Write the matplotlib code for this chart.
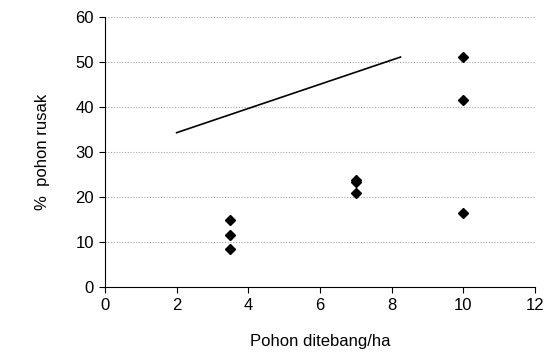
import matplotlib
matplotlib.use("Agg")
import matplotlib.pyplot as plt

# Observed damage by felling intensity
felled = [3.5, 3.5, 3.5, 7, 7, 7, 10, 10, 10]
damaged = [14.9, 11.6, 8.4, 23.8, 23.4, 20.8, 51.1, 41.5, 16.4]

# Reference line
line_x = [2, 8.25]
line_y = [34.3, 51.1]

x_ticks = [0, 2, 4, 6, 8, 10, 12]
y_ticks = [0, 10, 20, 30, 40, 50, 60]

plt.rcParams['font.family'] = ['Liberation Sans', 'DejaVu Sans']

fig = plt.figure(figsize=(5.48, 3.54), dpi=100)
ax = fig.add_axes([0.1916, 0.189, 0.7844, 0.763])

for y in y_ticks[1:]:
    ax.axhline(y, color='#a8a8a8', lw=0.8, ls=(0, (1, 1.5)), zorder=0)

ax.plot(line_x, line_y, color='black', lw=1.2, zorder=2)
ax.plot(felled, damaged, ls='none', marker='D', ms=5, color='black', zorder=3)

ax.set_xlim(0, 12)
ax.set_ylim(0, 60)
ax.set_xticks(x_ticks)
ax.set_yticks(y_ticks)
ax.tick_params(direction='out', length=4, width=0.8, labelsize=12, pad=4)

for s in ['top', 'right']:
    ax.spines[s].set_visible(False)
for s in ['left', 'bottom']:
    ax.spines[s].set_linewidth(0.8)

ax.set_xlabel('Pohon ditebang/ha', fontsize=12, labelpad=15)
ax.set_ylabel('%  pohon rusak', fontsize=12, labelpad=18)

fig.savefig('out.png', dpi=100)
